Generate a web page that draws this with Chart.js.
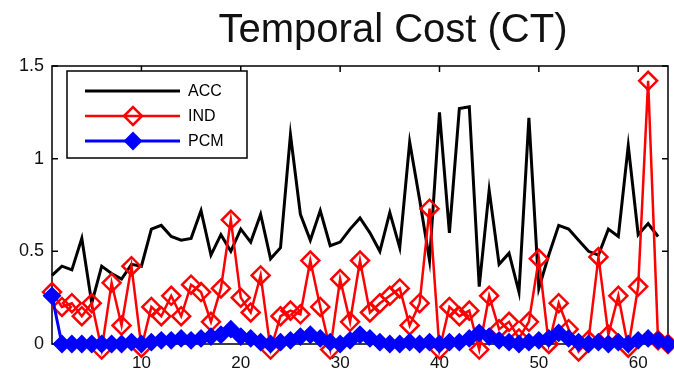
<!DOCTYPE html>
<html>
<head>
<meta charset="utf-8">
<script src="https://cdn.jsdelivr.net/npm/chart.js@4"></script>
<style>
  body { margin: 0; background: #fff; }
  canvas { display: block; }
</style>
</head>
<body>
<canvas id="ct-chart" width="674" height="375"></canvas>
<script>
// runs 1..63 along the x axis
const runs = Array.from({ length: 63 }, (_, i) => i + 1);
const xTicks = [10, 20, 30, 40, 50, 60];
const yTicks = [0, 0.5, 1, 1.5];

const accValues = [0.37, 0.42, 0.40, 0.57, 0.22, 0.42, 0.38, 0.35, 0.43, 0.42,
                   0.62, 0.64, 0.58, 0.56, 0.57, 0.72, 0.48, 0.59, 0.50, 0.62,
                   0.55, 0.70, 0.46, 0.52, 1.13, 0.70, 0.56, 0.72, 0.53, 0.55,
                   0.62, 0.68, 0.60, 0.50, 0.71, 0.52, 1.09, 0.78, 0.45, 1.25,
                   0.60, 1.27, 1.28, 0.31, 0.83, 0.43, 0.49, 0.28, 1.22, 0.30,
                   0.48, 0.64, 0.62, 0.56, 0.50, 0.48, 0.62, 0.58, 1.07, 0.59,
                   0.65, 0.58];
const indValues = [0.28, 0.20, 0.22, 0.15, 0.22, -0.03, 0.33, 0.10, 0.42, -0.02,
                   0.20, 0.15, 0.26, 0.15, 0.32, 0.28, 0.12, 0.30, 0.67, 0.25,
                   0.17, 0.37, -0.03, 0.15, 0.18, 0.16, 0.45, 0.20, -0.03, 0.35,
                   0.12, 0.45, 0.17, 0.22, 0.26, 0.30, 0.10, 0.22, 0.73, -0.03,
                   0.20, 0.15, 0.18, -0.03, 0.26, 0.08, 0.12, 0.03, 0.12, 0.46,
                   0.00, 0.22, 0.08, -0.04, 0.02, 0.47, 0.05, 0.26, -0.02, 0.31,
                   1.42, 0.02, 0.00];
const pcmValues = [0.26, 0.00, 0.00, 0.00, 0.00, 0.00, 0.00, 0.00, 0.01, 0.00,
                   0.01, 0.02, 0.02, 0.03, 0.02, 0.03, 0.04, 0.05, 0.08, 0.04,
                   0.03, 0.01, 0.00, 0.01, 0.02, 0.04, 0.05, 0.03, 0.01, 0.00,
                   0.02, 0.05, 0.03, 0.01, 0.00, 0.00, 0.01, 0.00, 0.01, 0.00,
                   0.01, 0.01, 0.03, 0.06, 0.04, 0.02, 0.01, 0.00, 0.01, 0.02,
                   0.03, 0.06, 0.03, 0.01, 0.00, 0.01, 0.00, 0.01, 0.00, 0.02,
                   0.03, 0.02, 0.00];

const seriesNames = ['ACC', 'IND', 'PCM'];
const titleText = 'Temporal Cost (CT)';
const FONT = '"Liberation Sans", Arial, Helvetica, sans-serif';

const toPoints = vals => vals.map((v, i) => ({ x: runs[i], y: v }));

// matlab style box with inward ticks, title and legend
const axesBox = {
    id: 'axesBox',
    beforeDatasetsDraw(chart) {
        const { ctx, chartArea: a, scales } = chart;
        ctx.save();
        ctx.strokeStyle = '#000';
        ctx.lineWidth = 1.5;
        ctx.strokeRect(a.left, a.top, a.right - a.left, a.bottom - a.top);
        ctx.beginPath();
        xTicks.forEach(v => {
            const px = scales.x.getPixelForValue(v);
            ctx.moveTo(px, a.bottom); ctx.lineTo(px, a.bottom - 6);
            ctx.moveTo(px, a.top); ctx.lineTo(px, a.top + 6);
        });
        yTicks.forEach(v => {
            const py = scales.y.getPixelForValue(v);
            ctx.moveTo(a.left, py); ctx.lineTo(a.left + 6, py);
            ctx.moveTo(a.right, py); ctx.lineTo(a.right - 6, py);
        });
        ctx.stroke();
        ctx.restore();
    },
    afterDraw(chart) {
        const { ctx } = chart;
        ctx.save();
        // title
        ctx.fillStyle = '#111';
        ctx.font = '40px ' + FONT;
        ctx.textAlign = 'center';
        ctx.textBaseline = 'middle';
        ctx.fillText(titleText, 393, 31);

        // legend
        const box = { x: 67, y: 71, w: 180, h: 87 };
        ctx.textAlign = 'left';
        ctx.fillStyle = '#fff';
        ctx.fillRect(box.x, box.y, box.w, box.h);
        ctx.strokeStyle = '#000';
        ctx.lineWidth = 1.5;
        ctx.strokeRect(box.x, box.y, box.w, box.h);
        const rows = [91, 116, 141];
        chart.data.datasets.forEach((ds, i) => {
            const y = rows[i];
            ctx.strokeStyle = ds.borderColor;
            ctx.lineWidth = ds.borderWidth;
            ctx.beginPath();
            ctx.moveTo(85, y);
            ctx.lineTo(180, y);
            ctx.stroke();
            if (ds.pointRadius > 0) {
                ctx.fillStyle = ds.pointBackgroundColor;
                ctx.strokeStyle = ds.pointBorderColor;
                ctx.lineWidth = ds.pointBorderWidth;
                Chart.helpers.drawPoint(ctx, {
                    pointStyle: ds.pointStyle,
                    radius: ds.pointRadius,
                    borderWidth: ds.pointBorderWidth,
                    rotation: 0
                }, 133, y);
            }
            ctx.fillStyle = '#000';
            ctx.font = '16px ' + FONT;
            ctx.textBaseline = 'middle';
            ctx.fillText(ds.label, 188, y + 1);
        });
        ctx.restore();
    }
};

new Chart(document.getElementById('ct-chart'), {
    type: 'line',
    data: {
        datasets: [{
            label: seriesNames[0],
            data: toPoints(accValues),
            borderColor: '#000',
            borderWidth: 3,
            pointRadius: 0,
            order: 2,
            clip: false
        }, {
            label: seriesNames[1],
            data: toPoints(indValues),
            borderColor: '#ff0000',
            borderWidth: 2.5,
            pointStyle: 'rectRot',
            pointRadius: 9,
            pointBorderWidth: 2.5,
            pointBorderColor: '#ff0000',
            pointBackgroundColor: 'rgba(0,0,0,0)',
            order: 1,
            clip: false
        }, {
            label: seriesNames[2],
            data: toPoints(pcmValues),
            borderColor: '#0000ff',
            borderWidth: 3,
            pointStyle: 'rectRot',
            pointRadius: 8,
            pointBorderWidth: 2,
            pointBorderColor: '#0000ff',
            pointBackgroundColor: '#0000ff',
            order: 0,
            clip: false
        }]
    },
    options: {
        responsive: false,
        animation: false,
        devicePixelRatio: 1,
        layout: { autoPadding: false, padding: { left: 0, right: 6, top: 66, bottom: 0 } },
        plugins: {
            legend: { display: false },
            tooltip: { enabled: false },
            title: { display: false }
        },
        scales: {
            x: {
                type: 'linear',
                min: 1,
                max: 63,
                afterBuildTicks: s => { s.ticks = xTicks.map(v => ({ value: v })); },
                afterFit: s => { s.height = 31; },
                grid: { display: false, drawTicks: false },
                border: { display: false },
                ticks: {
                    color: '#111',
                    padding: 9,
                    maxRotation: 0,
                    font: { family: FONT, size: 17 },
                    callback: v => String(v)
                }
            },
            y: {
                min: 0,
                max: 1.5,
                afterBuildTicks: s => { s.ticks = yTicks.map(v => ({ value: v })); },
                afterFit: s => { s.width = 52; },
                grid: { display: false, drawTicks: false },
                border: { display: false },
                ticks: {
                    color: '#111',
                    padding: 8,
                    font: { family: FONT, size: 18 },
                    callback: v => String(v)
                }
            }
        }
    },
    plugins: [axesBox]
});
</script>
</body>
</html>
